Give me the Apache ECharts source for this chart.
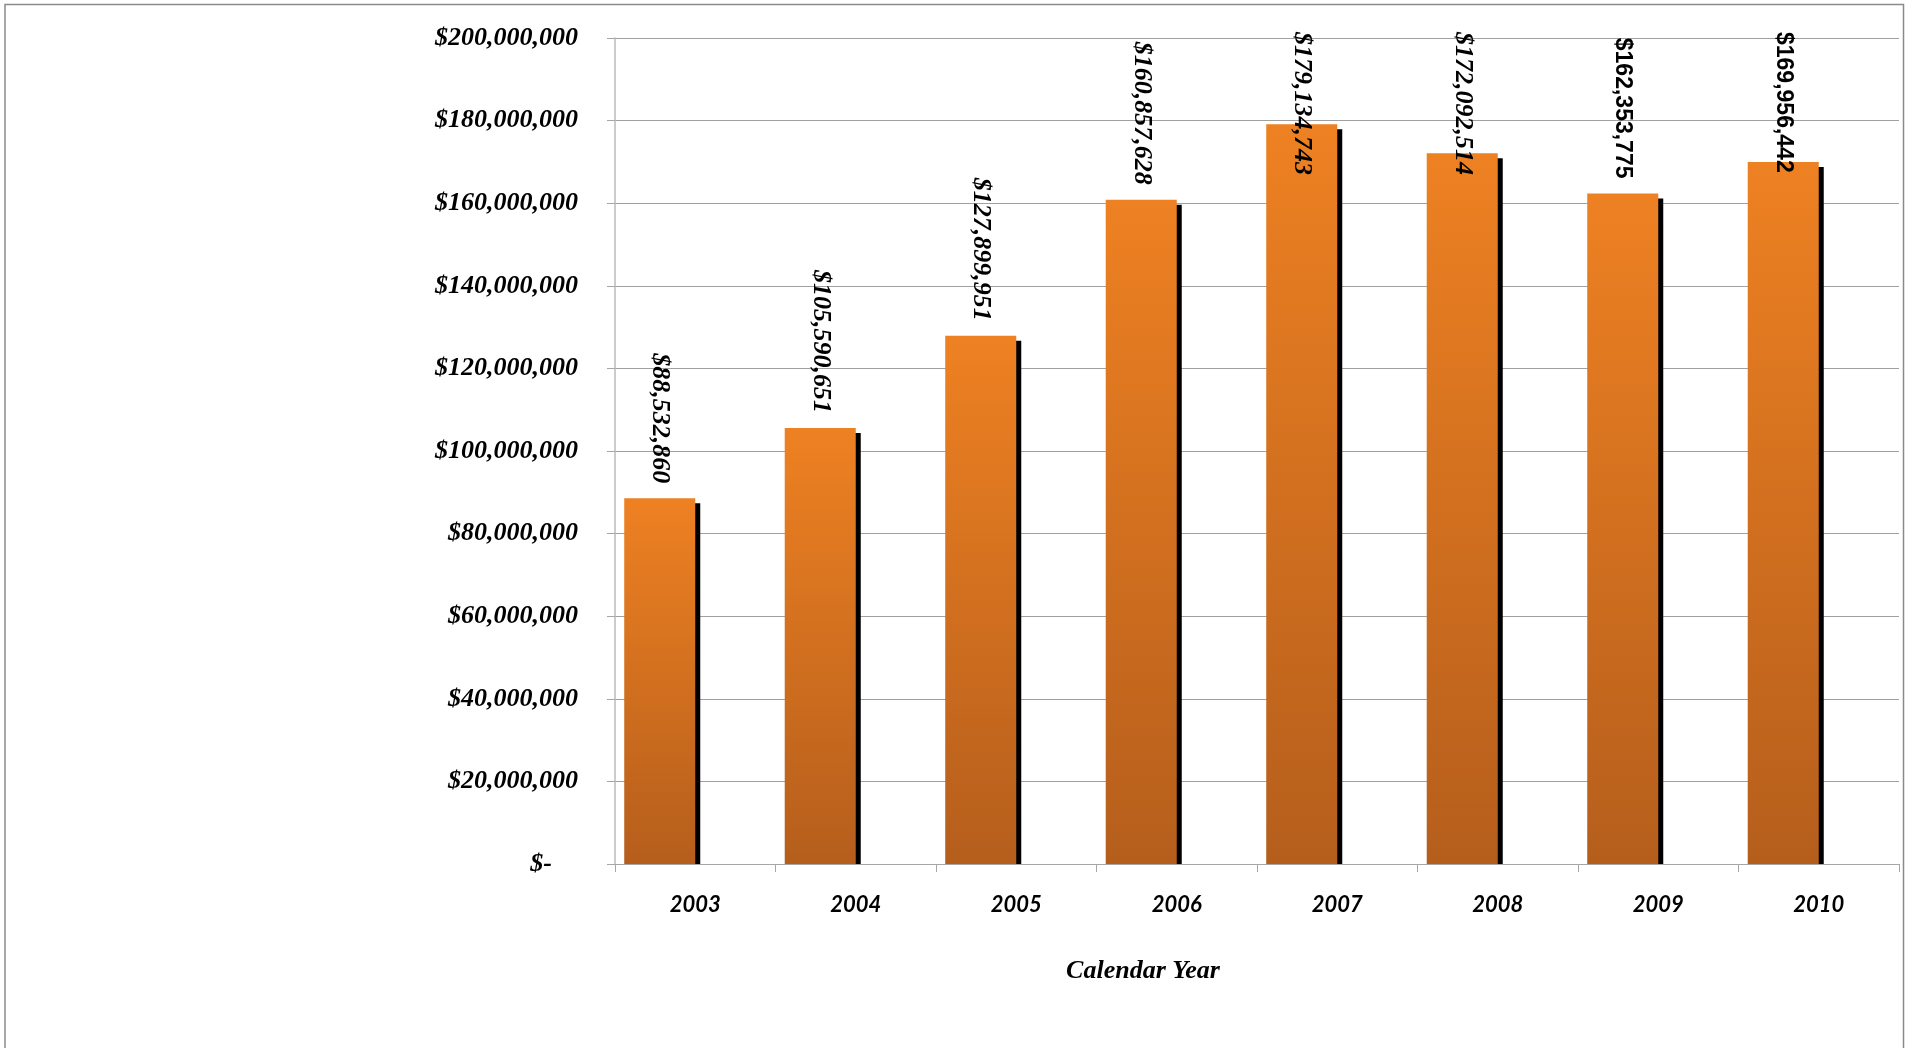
<!DOCTYPE html>
<html>
<head>
<meta charset="utf-8">
<script src="https://cdn.jsdelivr.net/npm/echarts@6/dist/echarts.min.js"></script>
<style>
html,body{margin:0;padding:0;background:#fff;}
#chart{width:1912px;height:1048px;}
</style>
</head>
<body>
<div id="chart"></div>
<script>
const years = ['2003','2004','2005','2006','2007','2008','2009','2010'];
const values = [88532860, 105590651, 127899951, 160857628, 179134743, 172092514, 162353775, 169956442];
const emptySeries = [null, null, null, null, null, null, null, null];
const yMin = 0, yMax = 200000000, yStep = 20000000;
const xAxisTitle = 'Calendar Year';
const sansLabelYears = ['2009','2010'];

const SERIF = '"Liberation Serif", "Times New Roman", serif';
const SANS_X = 'Lato, "Liberation Sans", sans-serif';
const SANS_L = '"Liberation Sans", Arial, sans-serif';

function money(v){ return '$' + Number(v).toLocaleString('en-US'); }

const chart = echarts.init(document.getElementById('chart'), null, {renderer:'canvas'});

function labelFor(i, distance){
  const sans = sansLabelYears.indexOf(years[i]) >= 0;
  return {
    show: true,
    position: 'top',
    distance: distance,
    rotate: -90,
    align: 'right',
    verticalAlign: 'middle',
    formatter: p => money(p.value),
    color: '#000',
    fontFamily: sans ? SANS_L : SERIF,
    fontSize: sans ? 23 : 26,
    fontWeight: 'bold',
    fontStyle: sans ? 'normal' : 'italic'
  };
}

const barStyle = {
  color: {type:'linear', x:0, y:0, x2:0, y2:1, colorStops:[
    {offset:0, color:'#EE8122'},
    {offset:1, color:'#B55E1C'}
  ]},
  shadowColor: '#000',
  shadowBlur: 0,
  shadowOffsetX: 5,
  shadowOffsetY: 5
};

function buildData(distances){
  return values.map((v, i) => ({ value: v, label: labelFor(i, distances[i]) }));
}

const option = {
  backgroundColor: '#fff',
  animation: false,
  grid: { left: 615, right: 13, top: 38, bottom: 184, containLabel: false },
  xAxis: {
    type: 'category',
    data: years,
    z: 10,
    axisLine: { show: true, lineStyle: { color: '#A6A6A6', width: 1 } },
    axisTick: { show: true, length: 8, alignWithLabel: false, lineStyle: { color: '#A6A6A6' } },
    axisLabel: {
      margin: 30, color: '#000', fontFamily: SANS_X, fontSize: 22,
      fontWeight: 'bold', fontStyle: 'italic'
    },
    splitLine: { show: false }
  },
  yAxis: {
    type: 'value',
    min: yMin, max: yMax, interval: yStep,
    axisLine: { show: true, lineStyle: { color: '#BBBBBB', width: 1.5 } },
    axisTick: { show: true, length: 8, lineStyle: { color: '#A6A6A6' } },
    splitLine: { show: true, lineStyle: { color: '#A0A0A0', width: 1 } },
    axisLabel: {
      margin: 37, color: '#000', fontFamily: SERIF, fontSize: 26,
      fontWeight: 'bold', fontStyle: 'italic',
      formatter: v => v === 0 ? '{z|$-}' : money(v),
      rich: { z: { fontFamily: SERIF, fontSize: 26, fontWeight: 'bold', fontStyle: 'italic', color: '#000', padding: [0, 26, 0, 0] } }
    }
  },
  series: [
    {
      type: 'bar',
      data: buildData(values.map(() => 15)),
      barGap: '0%',
      barCategoryGap: '11.5%',
      itemStyle: barStyle,
      z: 2
    },
    {
      type: 'bar',
      data: emptySeries,
      barGap: '0%',
      barCategoryGap: '11.5%',
      itemStyle: { color: '#4F81BD' }
    }
  ],
  graphic: [
    {
      id: 'frame', type: 'rect', silent: true, z: 100,
      shape: { x: 5, y: 4.5, width: 1898.5, height: 1100 },
      style: { fill: 'none', stroke: '#8A8A8A', lineWidth: 1.5 }
    },
    {
      id: 'xtitle', type: 'text', silent: true, x: 1143, y: 971,
      style: {
        text: xAxisTitle, fill: '#000', align: 'center', verticalAlign: 'middle',
        font: 'italic bold 26px ' + SERIF
      }
    }
  ]
};

chart.setOption(option);

// Excel-like label fitting: shift labels that would leave the plot top
const cv = document.createElement('canvas').getContext('2d');
const topPx = chart.convertToPixel({yAxisIndex:0}, yMax);
const zeroPx = chart.convertToPixel({yAxisIndex:0}, yMin);
const distances = values.map((v, i) => {
  const sans = sansLabelYears.indexOf(years[i]) >= 0;
  cv.font = (sans ? 'bold 23px ' + SANS_L : 'italic bold 26px ' + SERIF);
  const len = cv.measureText(money(v)).width;
  const barTop = chart.convertToPixel({yAxisIndex:0}, v);
  const normalStart = barTop - 15 - len;
  const minStart = topPx - 6;
  if (normalStart < minStart) {
    return barTop - (minStart + len);
  }
  return 15;
});
// mask the part of the bar shadows that falls below the plot area (Excel clips it)
const gridRect = chart.getModel().getComponent('grid').coordinateSystem.getRect();
chart.setOption({
  series: [{ data: buildData(distances) }, { data: emptySeries }],
  graphic: [
    {
      id: 'shadowMask', type: 'rect', silent: true, z: 5,
      shape: { x: gridRect.x + 1, y: zeroPx + 0.5, width: gridRect.width - 1, height: 7 },
      style: { fill: '#fff' }
    }
  ]
});
</script>
</body>
</html>
